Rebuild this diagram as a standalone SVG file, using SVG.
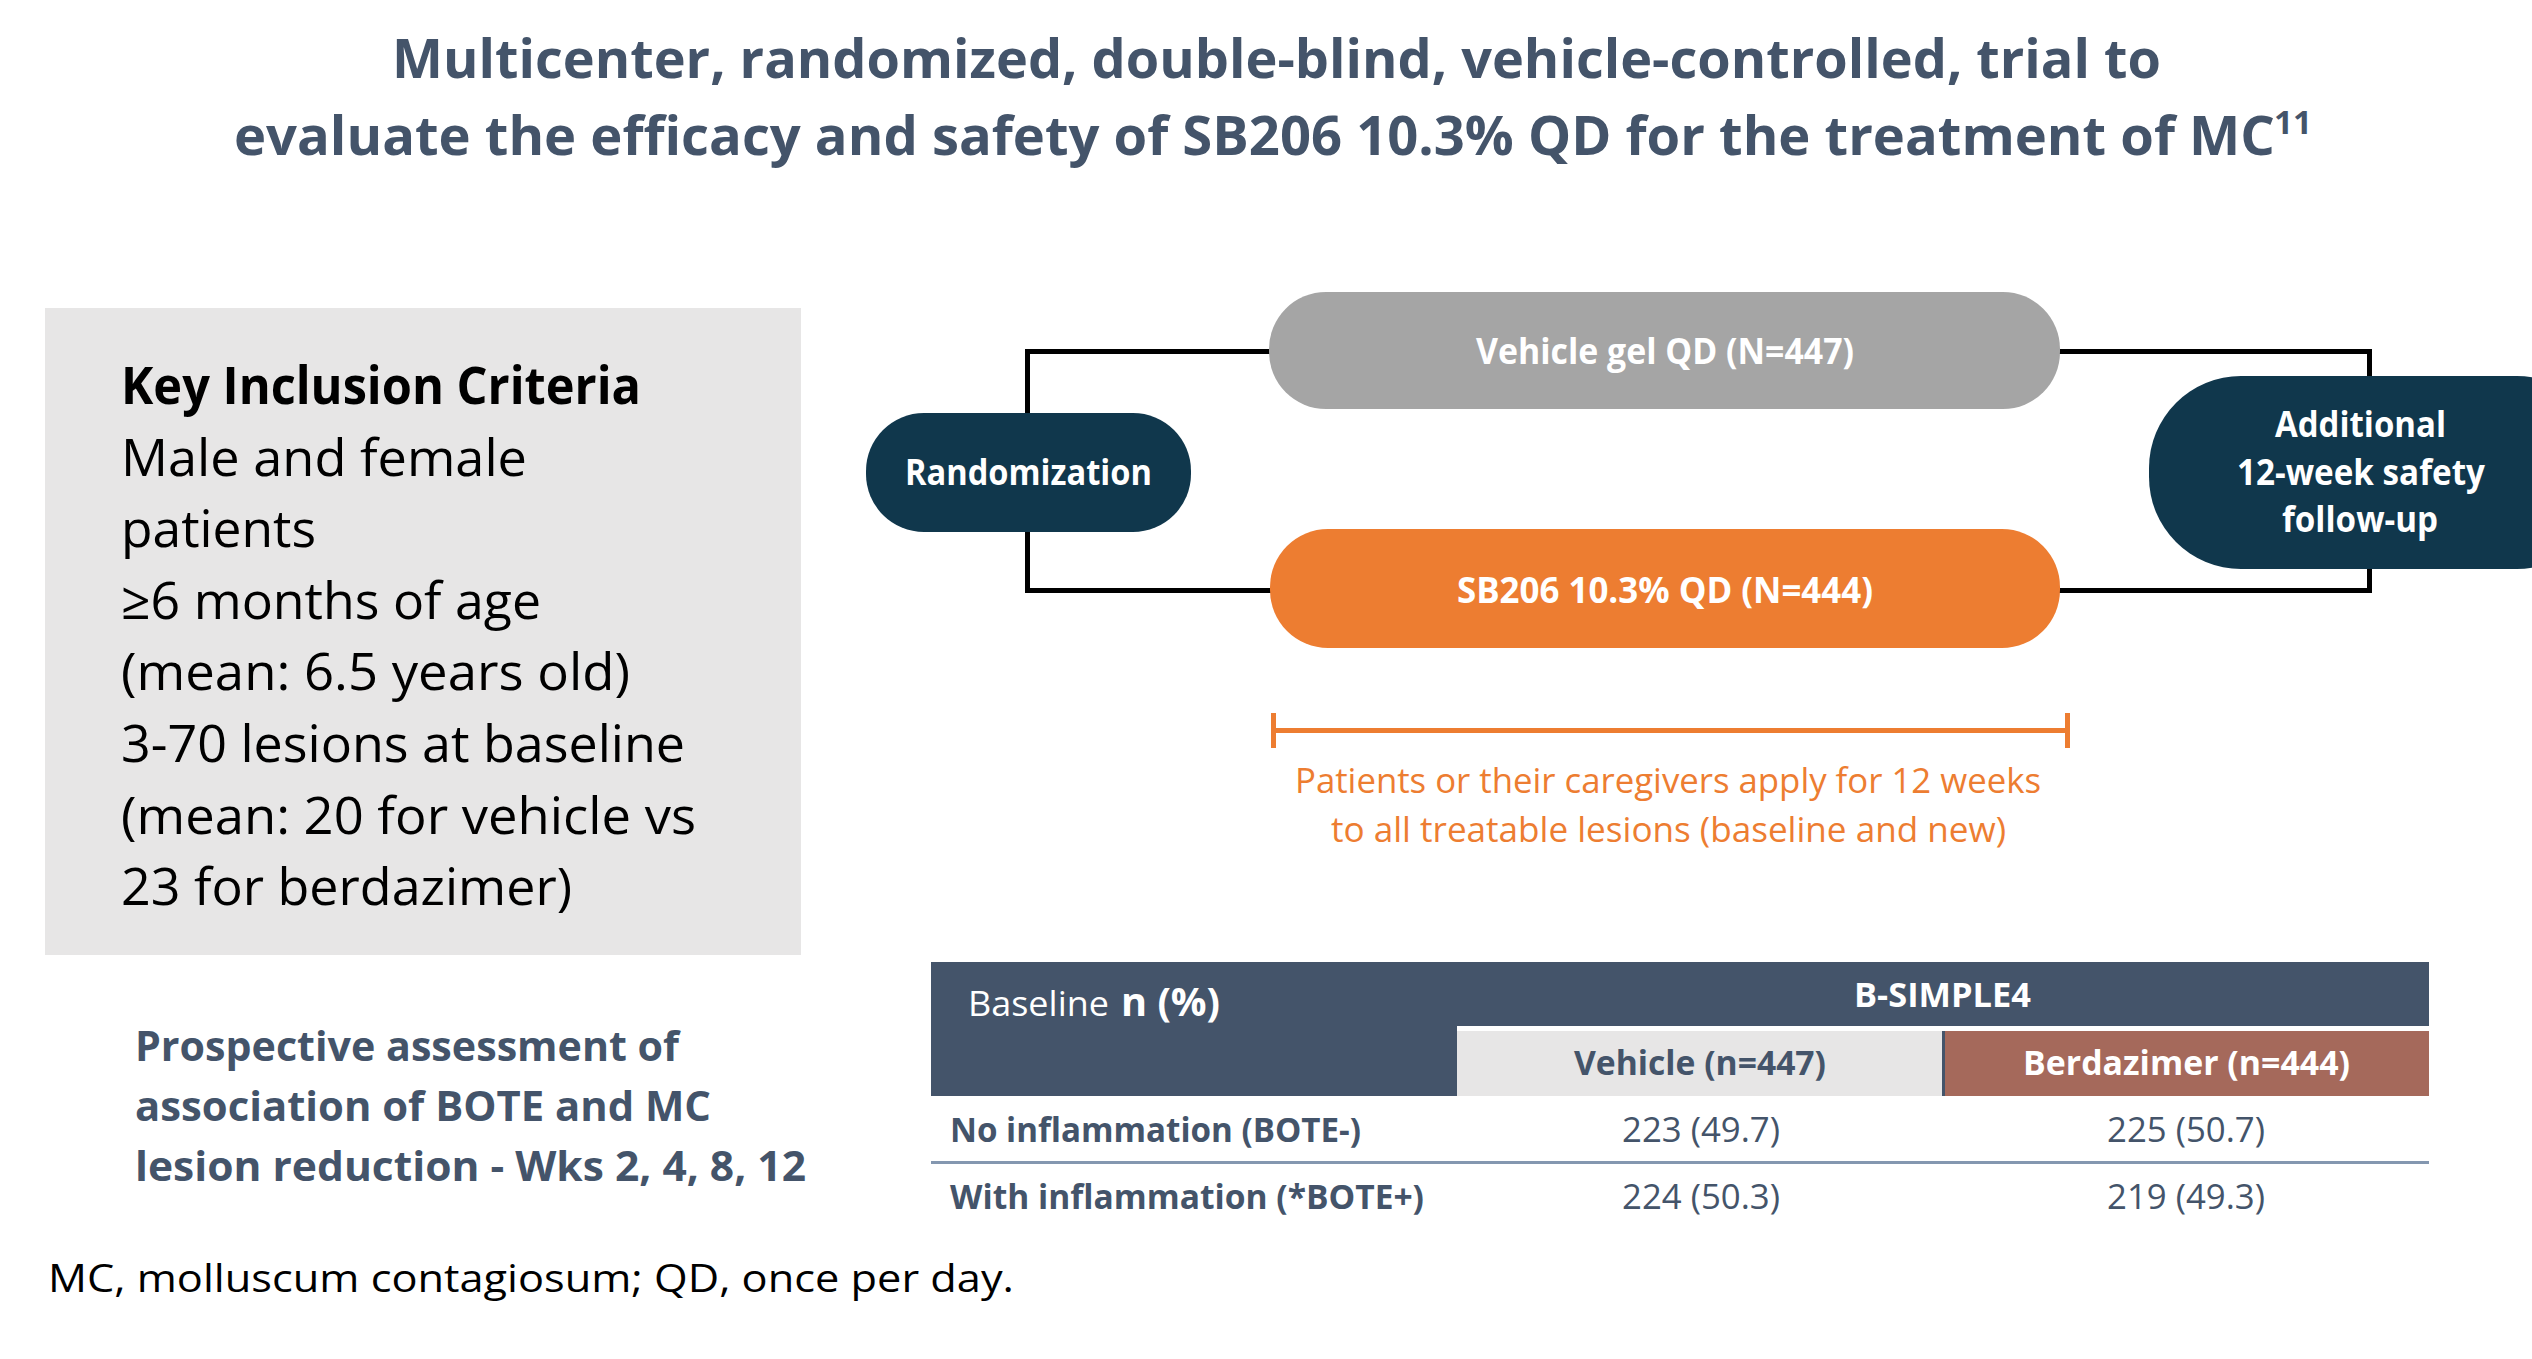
<svg xmlns="http://www.w3.org/2000/svg" width="2532" height="1359" viewBox="0 0 2532 1359">
<style>
text{font-family:"Open Sans","Liberation Sans",sans-serif;}
.b{font-weight:700;}
.title{font-size:53px;font-weight:700;fill:#44546A;}
.crit{font-size:52px;fill:#000;}
.pros{font-size:42px;font-weight:700;fill:#44546A;}
.pill{font-size:35px;font-weight:700;fill:#FFFFFF;}
.orng{font-size:35px;fill:#ED7D31;}
.tb{font-size:34px;fill:#44546A;}
.wh{fill:#FFFFFF;}
.foot{font-size:38px;fill:#000;}
.conn{fill:none;stroke:#000;stroke-width:5;}
.brk{fill:none;stroke:#ED7D31;stroke-width:5;}
</style>
<rect width="2532" height="1359" fill="#FFFFFF"/>

<g id="title">
<text class="title" x="392" y="78" textLength="1769" lengthAdjust="spacingAndGlyphs">Multicenter, randomized, double-blind, vehicle-controlled, trial to</text>
<text class="title" x="234" y="155" textLength="2041" lengthAdjust="spacingAndGlyphs">evaluate the efficacy and safety of SB206 10.3% QD for the treatment of MC</text>
<text class="title" x="2274" y="134" style="font-size:33px" textLength="38" lengthAdjust="spacingAndGlyphs">11</text>
</g>

<g id="criteria">
<rect x="45" y="308" width="756" height="647" fill="#E7E6E6"/>
<text class="crit b" x="121" y="404" textLength="520" lengthAdjust="spacingAndGlyphs">Key Inclusion Criteria</text>
<text class="crit" x="121" y="475.6" textLength="406" lengthAdjust="spacingAndGlyphs">Male and female</text>
<text class="crit" x="121" y="547.2" textLength="195" lengthAdjust="spacingAndGlyphs">patients</text>
<text class="crit" x="121" y="618.8" textLength="420" lengthAdjust="spacingAndGlyphs">≥6 months of age</text>
<text class="crit" x="121" y="690.4" textLength="509" lengthAdjust="spacingAndGlyphs">(mean: 6.5 years old)</text>
<text class="crit" x="121" y="762" textLength="564" lengthAdjust="spacingAndGlyphs">3-70 lesions at baseline</text>
<text class="crit" x="121" y="833.6" textLength="575" lengthAdjust="spacingAndGlyphs">(mean: 20 for vehicle vs</text>
<text class="crit" x="121" y="905.2" textLength="451" lengthAdjust="spacingAndGlyphs">23 for berdazimer)</text>
</g>

<g id="prospective">
<text class="pros" x="135" y="1061" textLength="544" lengthAdjust="spacingAndGlyphs">Prospective assessment of</text>
<text class="pros" x="135" y="1121" textLength="576" lengthAdjust="spacingAndGlyphs">association of BOTE and MC</text>
<text class="pros" x="135" y="1181" textLength="671" lengthAdjust="spacingAndGlyphs">lesion reduction - Wks 2, 4, 8, 12</text>
</g>

<g id="connectors">
<path class="conn" d="M1027.5,413 V351.5 H1270"/>
<path class="conn" d="M1027.5,532 V590.5 H1271"/>
<path class="conn" d="M2059,351.5 H2369.5 V377"/>
<path class="conn" d="M2059,590.5 H2369.5 V568"/>
</g>

<g id="randomization">
<rect x="866" y="413" width="325" height="119" rx="58" ry="58" fill="#10374C"/>
<text class="pill" x="905" y="485" textLength="247" lengthAdjust="spacingAndGlyphs">Randomization</text>
</g>

<g id="vehicle">
<rect x="1269" y="292" width="791" height="117" rx="57" ry="57" fill="#A5A5A5"/>
<text class="pill" x="1476" y="364" textLength="378" lengthAdjust="spacingAndGlyphs">Vehicle gel QD (N=447)</text>
</g>

<g id="sb206">
<rect x="1270" y="529" width="790" height="119" rx="58" ry="58" fill="#ED7D31"/>
<text class="pill" x="1457" y="603" textLength="416" lengthAdjust="spacingAndGlyphs">SB206 10.3% QD (N=444)</text>
</g>

<g id="followup">
<rect x="2149" y="376" width="460" height="193" rx="92" ry="92" fill="#10374C"/>
<text class="pill" x="2275" y="437" textLength="171" lengthAdjust="spacingAndGlyphs">Additional</text>
<text class="pill" x="2237" y="485" textLength="248" lengthAdjust="spacingAndGlyphs">12-week safety</text>
<text class="pill" x="2282" y="532" textLength="156" lengthAdjust="spacingAndGlyphs">follow-up</text>
</g>

<g id="duration">
<path class="brk" d="M1273.5,713 V748 M1273.5,730.5 H2067.5 M2067.5,713 V748"/>
<text class="orng" x="1295" y="793" textLength="746" lengthAdjust="spacingAndGlyphs">Patients or their caregivers apply for 12 weeks</text>
<text class="orng" x="1331" y="842" textLength="675" lengthAdjust="spacingAndGlyphs">to all treatable lesions (baseline and new)</text>
</g>

<g id="table">
<rect x="931" y="962" width="1498" height="134" fill="#44546A"/>
<rect x="1457" y="1026" width="972" height="5" fill="#FFFFFF"/>
<rect x="1457" y="1031" width="485" height="65" fill="#E7E6E6"/>
<rect x="1945" y="1031" width="484" height="65" fill="#A5695B"/>
<text class="tb wh" x="968" y="1016" textLength="141" lengthAdjust="spacingAndGlyphs">Baseline</text>
<text class="tb wh b" x="1121" y="1016" style="font-size:40px" textLength="99" lengthAdjust="spacingAndGlyphs">n (%)</text>
<text class="tb wh b" x="1854" y="1007" textLength="177" lengthAdjust="spacingAndGlyphs">B-SIMPLE4</text>
<text class="tb b" x="1574" y="1075" textLength="252" lengthAdjust="spacingAndGlyphs">Vehicle (n=447)</text>
<text class="tb wh b" x="2023" y="1075" textLength="327" lengthAdjust="spacingAndGlyphs">Berdazimer (n=444)</text>
<text class="tb b" x="950" y="1142" textLength="411" lengthAdjust="spacingAndGlyphs">No inflammation (BOTE-)</text>
<text class="tb" x="1622" y="1142" textLength="158" lengthAdjust="spacingAndGlyphs">223 (49.7)</text>
<text class="tb" x="2107" y="1142" textLength="158" lengthAdjust="spacingAndGlyphs">225 (50.7)</text>
<line x1="931" y1="1162.5" x2="2429" y2="1162.5" stroke="#8497B0" stroke-width="3"/>
<text class="tb b" x="950" y="1209" textLength="474" lengthAdjust="spacingAndGlyphs">With inflammation (*BOTE+)</text>
<text class="tb" x="1622" y="1209" textLength="158" lengthAdjust="spacingAndGlyphs">224 (50.3)</text>
<text class="tb" x="2107" y="1209" textLength="158" lengthAdjust="spacingAndGlyphs">219 (49.3)</text>
</g>

<g id="footnote">
<text class="foot" x="48" y="1292" textLength="966" lengthAdjust="spacingAndGlyphs">MC, molluscum contagiosum; QD, once per day.</text>
</g>
</svg>
